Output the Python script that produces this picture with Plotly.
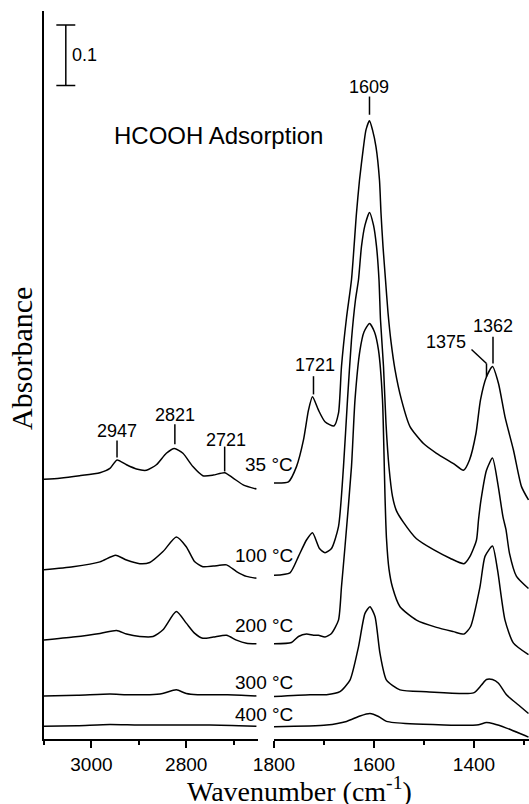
import plotly.graph_objects as go

# ---------------- data (absorbance, spectra stacked) ----------------
temps = ["35", "100", "200", "300", "400"]

# high-wavenumber window (C-H stretching region)
wn_hi_35 = [3100, 3067, 3025, 2982, 2961, 2946, 2926, 2905, 2884, 2863, 2842, 2825, 2807, 2786, 2765, 2743, 2719, 2701, 2680, 2652]
abs_hi_35 = [0.428, 0.430, 0.434, 0.439, 0.446, 0.460, 0.452, 0.445, 0.443, 0.452, 0.471, 0.479, 0.471, 0.449, 0.434, 0.435, 0.439, 0.430, 0.419, 0.412]

wn_hi_100 = [3100, 3039, 2982, 2949, 2926, 2898, 2877, 2849, 2821, 2800, 2782, 2765, 2743, 2715, 2694, 2673, 2652]
abs_hi_100 = [0.279, 0.284, 0.292, 0.303, 0.295, 0.289, 0.291, 0.309, 0.333, 0.317, 0.292, 0.284, 0.285, 0.287, 0.276, 0.268, 0.265]

wn_hi_200 = [3100, 3039, 2982, 2947, 2926, 2898, 2870, 2849, 2821, 2800, 2782, 2765, 2743, 2715, 2694, 2673, 2652]
abs_hi_200 = [0.163, 0.168, 0.174, 0.179, 0.173, 0.169, 0.169, 0.180, 0.210, 0.191, 0.174, 0.166, 0.168, 0.171, 0.163, 0.158, 0.157]

wn_hi_300 = [3100, 3030, 2961, 2926, 2877, 2850, 2821, 2800, 2776, 2713, 2652]
abs_hi_300 = [0.071, 0.072, 0.074, 0.073, 0.073, 0.075, 0.081, 0.075, 0.073, 0.073, 0.071]

wn_hi_400 = [3100, 3030, 2961, 2900, 2821, 2750, 2652]
abs_hi_400 = [0.021, 0.022, 0.024, 0.023, 0.023, 0.023, 0.021]

# low-wavenumber window (carbonyl / formate region)
wn_lo_35 = [1800, 1771, 1755, 1741, 1731, 1723, 1711, 1698, 1680, 1671, 1665, 1655, 1645, 1635, 1629, 1621, 1616, 1609, 1603, 1596,
            1589, 1586, 1582, 1577, 1572, 1566, 1558, 1545, 1528, 1501, 1475, 1441, 1421, 1409, 1396, 1387, 1375, 1363, 1351, 1338,
            1321, 1305, 1291]
abs_lo_35 = [0.422, 0.424, 0.449, 0.493, 0.542, 0.564, 0.542, 0.523, 0.516, 0.537, 0.614, 0.694, 0.757, 0.867, 0.921, 0.976, 1.004, 1.019, 1.004, 0.976,
             0.921, 0.867, 0.812, 0.757, 0.703, 0.655, 0.609, 0.559, 0.515, 0.487, 0.471, 0.454, 0.443, 0.460, 0.504, 0.559, 0.597, 0.614, 0.586, 0.531,
             0.476, 0.416, 0.394]

wn_lo_100 = [1800, 1768, 1751, 1735, 1723, 1709, 1698, 1685, 1671, 1661, 1653, 1645, 1637, 1631, 1625, 1618, 1609, 1601, 1595, 1590,
             1587, 1581, 1576, 1570, 1563, 1555, 1541, 1515, 1481, 1448, 1420, 1408, 1395, 1391, 1386, 1375, 1363, 1352, 1342, 1336,
             1329, 1315, 1291]
abs_lo_100 = [0.270, 0.274, 0.301, 0.328, 0.340, 0.314, 0.307, 0.314, 0.350, 0.449, 0.559, 0.658, 0.724, 0.757, 0.812, 0.847, 0.868, 0.847, 0.812, 0.757,
              0.691, 0.614, 0.520, 0.448, 0.400, 0.376, 0.357, 0.330, 0.312, 0.298, 0.289, 0.301, 0.328, 0.361, 0.394, 0.443, 0.463, 0.419, 0.366, 0.345,
              0.306, 0.268, 0.248]

wn_lo_200 = [1800, 1765, 1751, 1735, 1721, 1711, 1698, 1685, 1671, 1665, 1658, 1645, 1638, 1628, 1620, 1609, 1599, 1591, 1583, 1580,
             1578, 1575, 1570, 1563, 1548, 1515, 1475, 1441, 1420, 1407, 1388, 1378, 1363, 1353, 1338, 1321, 1291]
abs_lo_200 = [0.157, 0.159, 0.169, 0.173, 0.171, 0.171, 0.168, 0.174, 0.196, 0.251, 0.317, 0.449, 0.559, 0.641, 0.671, 0.685, 0.671, 0.641, 0.559, 0.470,
              0.400, 0.330, 0.280, 0.250, 0.218, 0.196, 0.184, 0.177, 0.173, 0.185, 0.251, 0.301, 0.318, 0.279, 0.196, 0.158, 0.139]

wn_lo_300 = [1800, 1728, 1695, 1668, 1648, 1631, 1618, 1608, 1598, 1588, 1575, 1548, 1495, 1401, 1385, 1375, 1363, 1351, 1335, 1311, 1291]
abs_lo_300 = [0.070, 0.073, 0.073, 0.078, 0.097, 0.152, 0.207, 0.218, 0.202, 0.141, 0.097, 0.081, 0.078, 0.076, 0.089, 0.098, 0.098, 0.092, 0.073, 0.056, 0.042]

wn_lo_400 = [1800, 1695, 1655, 1628, 1608, 1591, 1575, 1528, 1395, 1375, 1361, 1335, 1308, 1291]
abs_lo_400 = [0.020, 0.023, 0.029, 0.038, 0.042, 0.037, 0.029, 0.025, 0.023, 0.027, 0.025, 0.018, 0.009, 0.003]

temp_labels = ["35 °C", "100 °C", "200 °C", "300 °C", "400 °C"]

# peak assignments
peaks_hi = ["2947", "2821", "2721"]
peaks_lo = ["1721", "1609", "1375", "1362"]

scale_bar = 0.1

# ---------------- figure ----------------
hi = {"35": (wn_hi_35, abs_hi_35), "100": (wn_hi_100, abs_hi_100), "200": (wn_hi_200, abs_hi_200),
      "300": (wn_hi_300, abs_hi_300), "400": (wn_hi_400, abs_hi_400)}
lo = {"35": (wn_lo_35, abs_lo_35), "100": (wn_lo_100, abs_lo_100), "200": (wn_lo_200, abs_lo_200),
      "300": (wn_lo_300, abs_lo_300), "400": (wn_lo_400, abs_lo_400)}

fig = go.Figure()
line_style = dict(color="black", width=1.5, shape="spline", smoothing=0.6)
for t in temps:
    fig.add_trace(go.Scatter(x=hi[t][0], y=hi[t][1], xaxis="x", yaxis="y", mode="lines",
                             line=line_style, showlegend=False, hoverinfo="skip"))
    fig.add_trace(go.Scatter(x=lo[t][0], y=lo[t][1], xaxis="x2", yaxis="y", mode="lines",
                             line=line_style, showlegend=False, hoverinfo="skip"))

SANS = "Liberation Sans, Arial, sans-serif"
SERIF = "Liberation Serif, Times New Roman, serif"

axis_common = dict(
    anchor="y", showline=True, linewidth=2, linecolor="black", mirror=False,
    ticks="outside", ticklen=7, tickwidth=2, tickcolor="black",
    tick0=0, dtick=200, showgrid=False, zeroline=False,
    minor=dict(dtick=100, ticks="outside", ticklen=4, tickwidth=2, tickcolor="black", showgrid=False),
    tickfont=dict(family=SANS, size=19, color="black"),
)

fig.update_layout(
    width=529, height=804,
    margin=dict(l=44, r=0, t=11, b=65),
    plot_bgcolor="white", paper_bgcolor="white",
    xaxis=dict(domain=[0, 0.4419], range=[3100, 2648], **axis_common),
    xaxis2=dict(domain=[0.4742, 1.0], range=[1800, 1290], **axis_common),
    yaxis=dict(domain=[0, 1], range=[0, 1.2], anchor="x", showline=True, linewidth=2, linecolor="black",
               ticks="", showticklabels=False, showgrid=False, zeroline=False),
)

shapes = []
def seg(xref, x0, y0, x1, y1):
    shapes.append(dict(type="line", xref=xref, yref="y", x0=x0, x1=x1, y0=y0, y1=y1,
                       line=dict(color="black", width=1.5)))

def vline(xref, x, y0, y1):
    seg(xref, x, y0, x, y1)

# scale bar
sb_x, sb_base = 3054, 1.077
vline("x", sb_x, sb_base, sb_base + scale_bar)
seg("x", 3074, sb_base, 3034, sb_base)
seg("x", 3074, sb_base + scale_bar, 3034, sb_base + scale_bar)

# peak marker ticks
vline("x", 2946, 0.464, 0.492)
vline("x", 2824, 0.486, 0.519)
vline("x", 2719, 0.441, 0.482)
vline("x2", 1721, 0.568, 0.598)
vline("x2", 1609, 1.029, 1.059)
vline("x2", 1362, 0.619, 0.663)
seg("x2", 1405, 0.642, 1375, 0.619)
vline("x2", 1375, 0.597, 0.619)

annotations = []
def label(xref, x, y, text, size=18, xanchor="center", yref="y", font=SANS, yanchor="middle", **kw):
    annotations.append(dict(xref=xref, yref=yref, x=x, y=y, text=text, showarrow=False,
                            xanchor=xanchor, yanchor=yanchor,
                            font=dict(family=font, size=size, color="black"), **kw))

label("x", 3046, 1.127, str(scale_bar), xanchor="left")

label("x", 2946, 0.507, peaks_hi[0])
label("x", 2823, 0.534, peaks_hi[1])
label("x", 2717, 0.493, peaks_hi[2])
label("x2", 1718, 0.616, peaks_lo[0])
label("x2", 1610, 1.075, peaks_lo[1])
label("x2", 1456, 0.654, peaks_lo[2])
label("x2", 1361, 0.680, peaks_lo[3])

label("paper", 0.3608, 0.8283, "HCOOH Adsorption", size=24, yref="paper")

temp_y = [0.3777, 0.2518, 0.1556, 0.0773, 0.0330]
for txt, yy in zip(temp_labels, temp_y):
    label("paper", 0.5175, yy, txt, size=19, xanchor="right", yref="paper")

label("paper", 0.5258, -0.0700, "Wavenumber (cm<sup>-1</sup>)", size=28, yref="paper", font=SERIF)
label("paper", -0.0454, 0.5234, "Absorbance", size=30, yref="paper", font=SERIF, textangle=-90)

fig.update_layout(shapes=shapes, annotations=annotations)

fig.write_html("out.html")
